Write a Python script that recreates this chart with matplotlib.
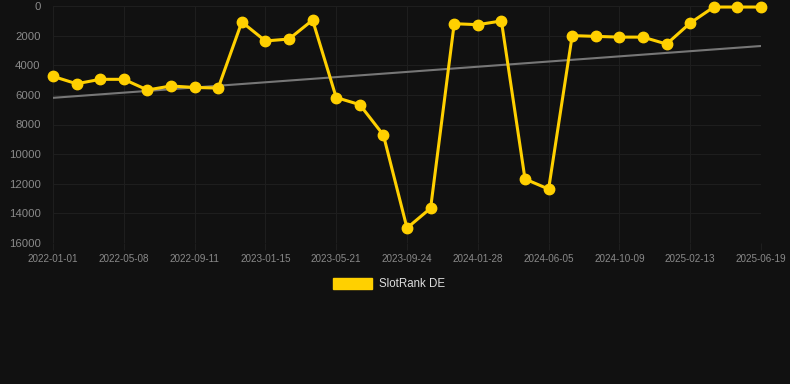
import matplotlib
matplotlib.use("Agg")
import matplotlib.pyplot as plt
import numpy as np

plt.rcParams['font.family'] = ['Liberation Sans', 'DejaVu Sans']

tick_labels = ["2022-01-01", "2022-05-08", "2022-09-11", "2023-01-15", "2023-05-21",
               "2023-09-24", "2024-01-28", "2024-06-05", "2024-10-09", "2025-02-13",
               "2025-06-19"]
rank_values = [4750, 5250, 4950, 4950, 5670, 5400, 5500, 5540, 1080, 2360,
               2230, 950, 6180, 6660, 8710, 14990, 13650, 1195, 1260, 1010,
               11680, 12360, 2000, 2050, 2100, 2100, 2570, 1150, 70, 70, 70]
trend_start = 6200
trend_end = 2700
series_name = "SlotRank DE"

bg = "#111111"
yellow = "#FFD000"

fig = plt.figure(figsize=(7.9, 3.84), dpi=100, facecolor=bg)
ax = fig.add_axes([53/790, 1-243/384, (761-53)/790, (243-6)/384], facecolor=bg)

x = np.arange(len(rank_values))
ax.plot([x[0], x[-1]], [trend_start, trend_end], color="#777777", lw=1.5, zorder=2)
ax.plot(x, rank_values, color=yellow, lw=2.2, marker="o", ms=7.5, zorder=3,
        solid_joinstyle="round", clip_on=False)

ax.set_xlim(x[0], x[-1])
ax.set_ylim(16000, 0)
ax.set_yticks(np.arange(0, 16001, 2000))
ax.set_xticks(x[::3])
ax.set_xticklabels(tick_labels)
ax.grid(True, color="#1e1e1e", lw=0.8, zorder=0)
for s in ax.spines.values():
    s.set_visible(False)
ax.tick_params(axis='y', length=0, pad=9, labelsize=8.2, labelcolor="#8a8a8a")
ax.tick_params(axis='x', length=5, color="#1e1e1e", pad=3, labelsize=7.1, labelcolor="#8a8a8a")

handle = plt.Rectangle((0, 0), 1, 1, facecolor=yellow, edgecolor=yellow)
leg = fig.legend([handle], [series_name], loc="center", bbox_to_anchor=(389/790, 1-284/384),
                 frameon=False, handlelength=3.4, handleheight=1.1, handletextpad=0.55,
                 fontsize=8.3, labelcolor="#dddddd")

fig.savefig("out.png", dpi=100, facecolor=bg)
